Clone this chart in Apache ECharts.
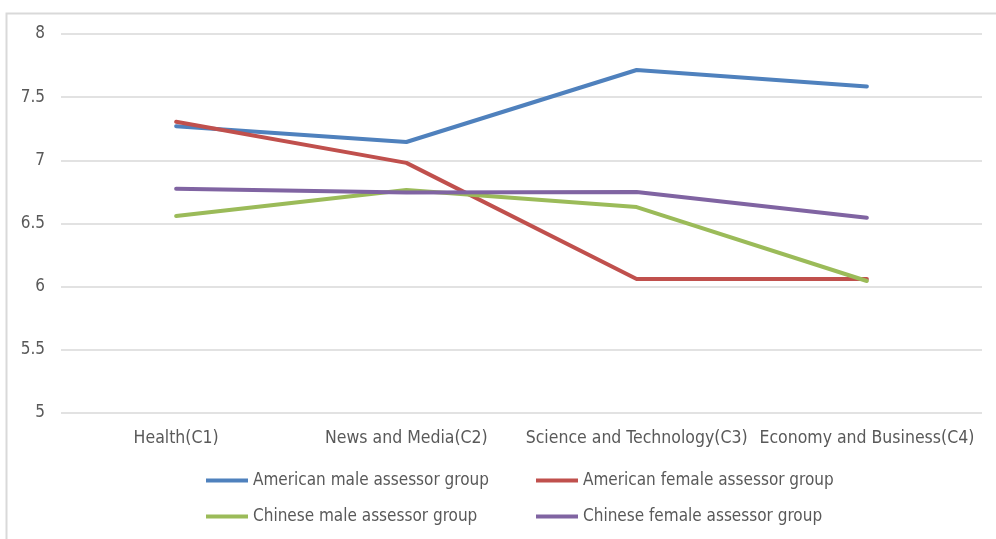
<!DOCTYPE html>
<html>
<head>
<meta charset="utf-8">
<script src="https://cdn.jsdelivr.net/npm/echarts@6/dist/echarts.min.js"></script>
<style>
html,body{margin:0;padding:0;background:#fff;}
#chart{width:996px;height:539px;}
</style>
</head>
<body>
<div id="chart"></div>
<script>
var categories = ['Health(C1)', 'News and Media(C2)', 'Science and Technology(C3)', 'Economy and Business(C4)'];
var seriesNames = ['American male assessor group', 'American female assessor group', 'Chinese male assessor group', 'Chinese female assessor group'];
var americanMale = [7.27, 7.145, 7.715, 7.585];
var americanFemale = [7.305, 6.98, 6.06, 6.06];
var chineseMale = [6.56, 6.765, 6.63, 6.045];
var chineseFemale = [6.775, 6.745, 6.75, 6.545];
var yTicks = [5, 5.5, 6, 6.5, 7, 7.5, 8];
var colors = ['#4F81BD', '#C0504D', '#9BBB59', '#8064A2'];

var FONT = '"Liberation Sans Narrow", "DejaVu Sans Condensed", sans-serif';
var values = [americanMale, americanFemale, chineseMale, chineseFemale];
var legendPos = [[206, 472], [536, 472], [206, 508], [536, 508]];

var chart = echarts.init(document.getElementById('chart'), null, {renderer: 'canvas'});
chart.setOption({
  backgroundColor: '#ffffff',
  animation: false,
  graphic: [{
    type: 'rect', z: -10,
    shape: {x: 6.5, y: 13.5, width: 1000, height: 600},
    style: {fill: '#ffffff', stroke: '#d9d9d9', lineWidth: 2}
  }],
  grid: {left: 61, right: 14, top: 34, bottom: 126},
  legend: seriesNames.map(function (n, i) {
    return {
      data: [n], left: legendPos[i][0], top: legendPos[i][1], padding: 0,
      icon: 'rect', itemWidth: 42, itemHeight: 4, itemGap: 0,
      textStyle: {color: '#595959', fontSize: 17, fontFamily: FONT}
    };
  }),
  xAxis: {
    type: 'category', data: categories, boundaryGap: true,
    axisLine: {show: false}, axisTick: {show: false},
    axisLabel: {color: '#595959', fontSize: 17.5, fontFamily: FONT, margin: 16, interval: 0}
  },
  yAxis: {
    type: 'value', min: yTicks[0], max: yTicks[yTicks.length - 1], interval: 0.5,
    axisLine: {show: false}, axisTick: {show: false},
    axisLabel: {color: '#595959', fontSize: 17, fontFamily: FONT, margin: 16},
    splitLine: {lineStyle: {color: '#d9d9d9', width: 1.5}}
  },
  series: seriesNames.map(function (n, i) {
    return {
      name: n, type: 'line', data: values[i], symbol: 'none',
      lineStyle: {color: colors[i], width: 4, cap: 'round', join: 'round'},
      itemStyle: {color: colors[i]}
    };
  })
});
</script>
</body>
</html>
